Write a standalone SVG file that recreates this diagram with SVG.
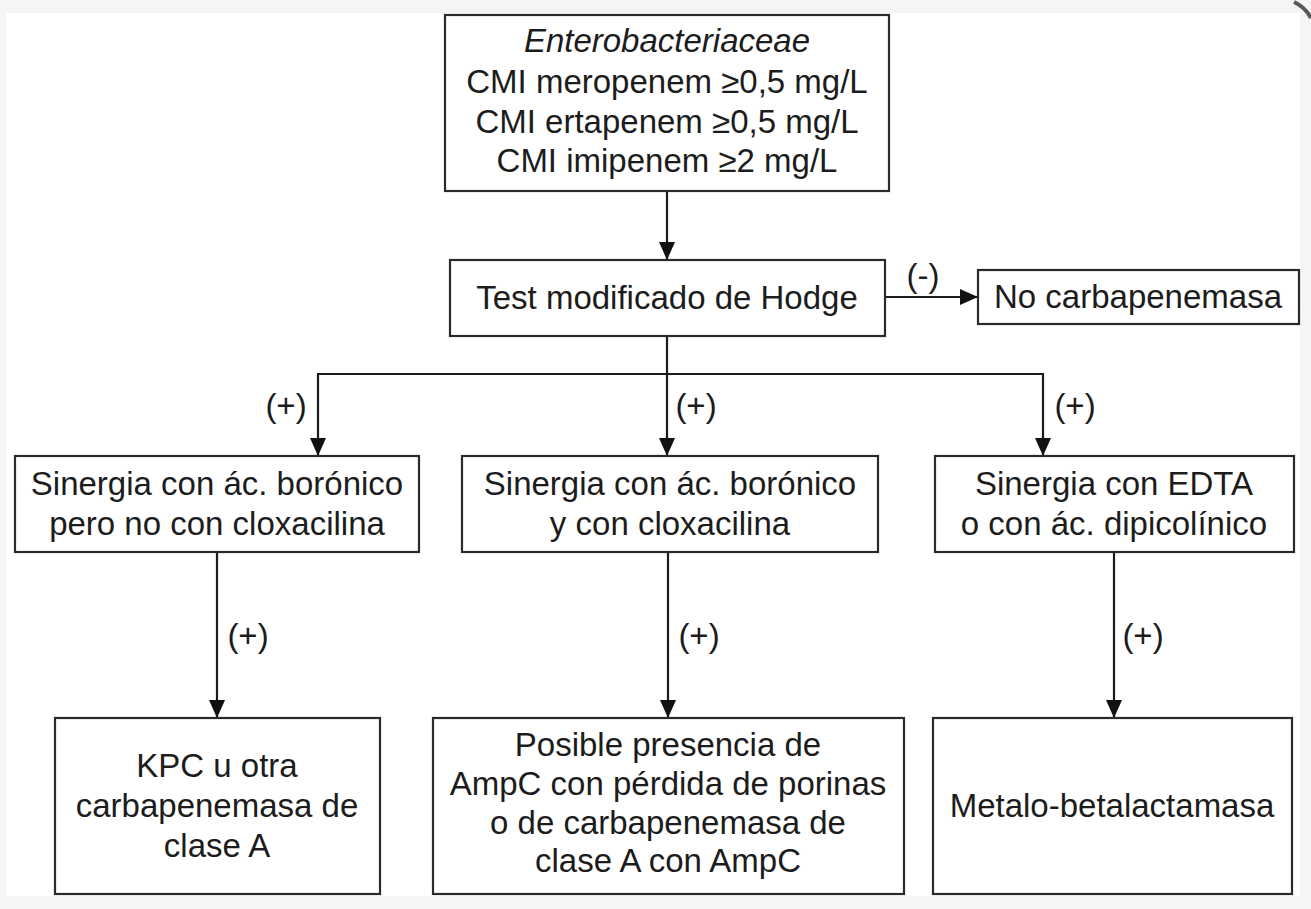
<svg xmlns="http://www.w3.org/2000/svg" width="1311" height="909" viewBox="0 0 1311 909">
  <style>
    .box { fill: #ffffff; stroke: #2a2a2a; stroke-width: 2.2; }
    .t { font-family: "Liberation Sans", Arial, Helvetica, sans-serif; font-size: 33px; fill: #1c1c1c; text-anchor: middle; }
    .i { font-style: italic; }
    .c { fill: none; stroke: #1c1c1c; stroke-width: 2.2; }
  </style>
  <defs>
    <marker id="ah" viewBox="0 0 18 16" refX="18" refY="8" markerWidth="18" markerHeight="16" markerUnits="userSpaceOnUse" orient="auto">
      <path d="M0,0 L18,8 L0,16 z" fill="#111111"/>
    </marker>
  </defs>

  <rect x="0" y="0" width="1311" height="909" fill="#f5f5f5"/>
  <rect x="6" y="13" width="1294" height="883" fill="#ffffff"/>
  <path d="M1294,2 Q1305,7 1311,18" fill="none" stroke="#333333" stroke-width="4" opacity="0.8"/>

  <g id="connectors">
    <path class="c" d="M667,191 V260" marker-end="url(#ah)"/>
    <path class="c" d="M885,297 H978" marker-end="url(#ah)"/>
    <path class="c" d="M667,336 V456" marker-end="url(#ah)"/>
    <path class="c" d="M318,374 H1043"/>
    <path class="c" d="M318,373 V456" marker-end="url(#ah)"/>
    <path class="c" d="M1043,373 V456" marker-end="url(#ah)"/>
    <path class="c" d="M217,552 V718" marker-end="url(#ah)"/>
    <path class="c" d="M668,552 V718" marker-end="url(#ah)"/>
    <path class="c" d="M1114,552 V718" marker-end="url(#ah)"/>
    <text class="t" x="923" y="287">(-)</text>
    <text class="t" x="286" y="417">(+)</text>
    <text class="t" x="696" y="417">(+)</text>
    <text class="t" x="1075" y="417">(+)</text>
    <text class="t" x="248" y="647">(+)</text>
    <text class="t" x="699" y="647">(+)</text>
    <text class="t" x="1143" y="647">(+)</text>
  </g>

  <g id="n-entero">
    <rect class="box" x="445" y="15" width="444" height="176"/>
    <text class="t i" x="667" y="52">Enterobacteriaceae</text>
    <text class="t" x="667" y="93">CMI meropenem ≥0,5 mg/L</text>
    <text class="t" x="667" y="133">CMI ertapenem ≥0,5 mg/L</text>
    <text class="t" x="667" y="172">CMI imipenem ≥2 mg/L</text>
  </g>

  <g id="n-hodge">
    <rect class="box" x="450" y="260" width="435" height="76"/>
    <text class="t" x="667" y="309">Test modificado de Hodge</text>
  </g>

  <g id="n-nocarb">
    <rect class="box" x="978" y="270" width="321" height="54"/>
    <text class="t" x="1138" y="308">No carbapenemasa</text>
  </g>

  <g id="n-s1">
    <rect class="box" x="15" y="456" width="404" height="96"/>
    <text class="t" x="217" y="495">Sinergia con ác. borónico</text>
    <text class="t" x="217" y="535">pero no con cloxacilina</text>
  </g>

  <g id="n-s2">
    <rect class="box" x="462" y="456" width="416" height="96"/>
    <text class="t" x="670" y="495">Sinergia con ác. borónico</text>
    <text class="t" x="670" y="535">y con cloxacilina</text>
  </g>

  <g id="n-s3">
    <rect class="box" x="935" y="456" width="359" height="96"/>
    <text class="t" x="1114" y="495">Sinergia con EDTA</text>
    <text class="t" x="1114" y="535">o con ác. dipicolínico</text>
  </g>

  <g id="n-kpc">
    <rect class="box" x="55" y="718" width="325" height="176"/>
    <text class="t" x="217" y="777">KPC u otra</text>
    <text class="t" x="217" y="817">carbapenemasa de</text>
    <text class="t" x="217" y="857">clase A</text>
  </g>

  <g id="n-ampc">
    <rect class="box" x="433" y="718" width="471" height="176"/>
    <text class="t" x="668" y="756">Posible presencia de</text>
    <text class="t" x="668" y="795">AmpC con pérdida de porinas</text>
    <text class="t" x="668" y="834">o de carbapenemasa de</text>
    <text class="t" x="668" y="872">clase A con AmpC</text>
  </g>

  <g id="n-mbl">
    <rect class="box" x="933" y="718" width="359" height="176"/>
    <text class="t" x="1112" y="817">Metalo-betalactamasa</text>
  </g>
</svg>
